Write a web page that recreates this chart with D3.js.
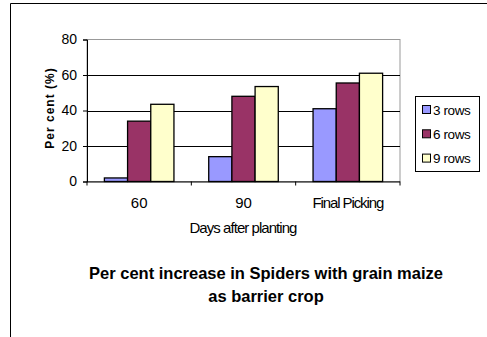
<!DOCTYPE html>
<html>
<head>
<meta charset="utf-8">
<script src="https://cdn.jsdelivr.net/npm/d3@7"></script>
<style>
  body { margin: 0; background: #fff; }
  text { font-family: "Liberation Sans", Arial, sans-serif; }
</style>
</head>
<body>
<div id="chart"></div>
<script>
// data
var categories = ["60", "90", "Final Picking"]
var seriesNames = ["3 rows", "6 rows", "9 rows"]
var rows3 = [2, 14, 41]
var rows6 = [34, 48, 55.5]
var rows9 = [43.5, 53.5, 61]
var yTicks = [0, 20, 40, 60, 80]
var colors = ["#9999FF", "#993366", "#FFFFCC"]

var values = [rows3, rows6, rows9]

var W = 487, H = 337
var svg = d3.select("#chart")
  .append("svg")
    .attr("width", W)
    .attr("height", H)

// outer frame (left + top only visible)
svg.append("path")
  .attr("d", "M10.5," + H + "V3.5H" + W)
  .attr("fill", "none")
  .attr("stroke", "#000")
  .attr("stroke-width", 1)

var plot = {left: 87, right: 400, top: 39.5, bottom: 181.5}

var x0 = d3.scaleBand()
  .domain(categories)
  .range([plot.left, plot.right])
  .paddingInner(0)
  .paddingOuter(0)

// gap width 150%: bars take 3 of 4.5 slots
var x1 = d3.scaleBand()
  .domain(d3.range(seriesNames.length))
  .range([0, x0.bandwidth()])
  .paddingInner(0)
  .paddingOuter(0.75)

var y = d3.scaleLinear()
  .domain([0, 80])
  .range([plot.bottom, plot.top])

// plot border (gray)
svg.append("rect")
  .attr("x", plot.left)
  .attr("y", plot.top)
  .attr("width", plot.right - plot.left)
  .attr("height", plot.bottom - plot.top)
  .attr("fill", "#fff")
  .attr("stroke", "#999")
  .attr("stroke-width", 1)

// gridlines
svg.append("g")
  .selectAll("line")
  .data(yTicks.filter(d => d > 0 && d < 80))
  .join("line")
    .attr("x1", plot.left)
    .attr("x2", plot.right)
    .attr("y1", d => Math.round(y(d)) + 0.5)
    .attr("y2", d => Math.round(y(d)) + 0.5)
    .attr("stroke", "#000")

// bars
categories.forEach(function (c, ci) {
  values.forEach(function (vals, si) {
    svg.append("rect")
      .attr("x", x0(c) + x1(si))
      .attr("y", y(vals[ci]))
      .attr("width", x1.bandwidth())
      .attr("height", y(0) - y(vals[ci]))
      .attr("fill", colors[si])
      .attr("stroke", "#000")
      .attr("stroke-width", 1.3)
  })
})

// y axis
var yAxis = svg.append("g")
  .attr("transform", "translate(" + plot.left + ",0)")
  .call(d3.axisLeft(y).tickValues(yTicks).tickSize(4).tickPadding(6))
yAxis.select(".domain").attr("stroke", "#000")
yAxis.selectAll("text")
  .attr("font-size", "14px")
  .attr("fill", "#000")
  .attr("font-family", "Liberation Sans, Arial, sans-serif")

// x axis
var xAxis = svg.append("g")
  .attr("transform", "translate(0," + plot.bottom + ")")
xAxis.append("line")
  .attr("x1", plot.left).attr("x2", plot.right)
  .attr("y1", 0.5).attr("y2", 0.5)
  .attr("stroke", "#000")
xAxis.selectAll(".tk")
  .data(categories.map(c => x0(c)).concat([plot.right]))
  .join("line")
    .attr("class", "tk")
    .attr("x1", d => d).attr("x2", d => d)
    .attr("y1", 0).attr("y2", 4)
    .attr("stroke", "#000")
xAxis.selectAll(".lbl")
  .data(categories)
  .join("text")
    .attr("class", "lbl")
    .attr("x", d => x0(d) + x0.bandwidth() / 2)
    .attr("y", 26)
    .attr("text-anchor", "middle")
    .attr("font-size", "15px")
    .attr("letter-spacing", d => d.length > 3 ? "-1.1px" : "0")
    .text(d => d)

// axis titles
svg.append("text")
  .attr("x", 243)
  .attr("y", 233)
  .attr("text-anchor", "middle")
  .attr("font-size", "15px")
  .attr("letter-spacing", "-0.95px")
  .text("Days after planting")

svg.append("text")
  .attr("transform", "translate(54,108) rotate(-90)")
  .attr("text-anchor", "middle")
  .attr("font-size", "12px")
  .attr("font-weight", "bold")
  .attr("letter-spacing", "1px")
  .text("Per cent  (%)")

// legend
var lg = svg.append("g")
lg.append("rect")
  .attr("x", 415.5).attr("y", 96.5)
  .attr("width", 64).attr("height", 75)
  .attr("fill", "#fff")
  .attr("stroke", "#000")
seriesNames.forEach(function (s, i) {
  var cy = 109.5 + i * 24.3
  lg.append("rect")
    .attr("x", 422.5).attr("y", cy - 4)
    .attr("width", 8).attr("height", 8)
    .attr("fill", colors[i])
    .attr("stroke", "#000")
  lg.append("text")
    .attr("x", 433)
    .attr("y", cy + 5)
    .attr("font-size", "13.5px")
    .attr("letter-spacing", "-0.4px")
    .text(s)
})

// title
var title = svg.append("text")
  .attr("text-anchor", "middle")
  .attr("font-size", "16.5px")
  .attr("font-weight", "bold")
title.append("tspan").attr("x", 266).attr("y", 279).text("Per cent increase in Spiders with grain maize")
title.append("tspan").attr("x", 266).attr("y", 302).text("as barrier crop")
</script>
</body>
</html>
